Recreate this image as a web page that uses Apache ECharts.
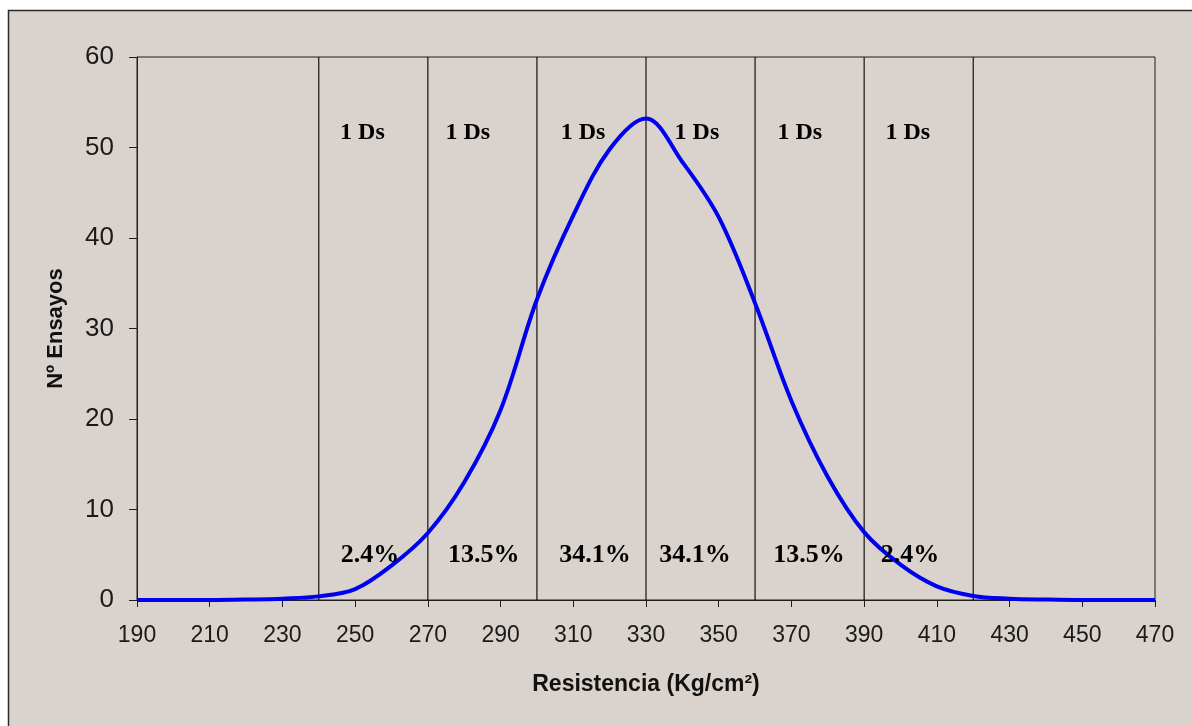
<!DOCTYPE html>
<html>
<head>
<meta charset="utf-8">
<script src="https://cdn.jsdelivr.net/npm/echarts@6/dist/echarts.min.js"></script>
<style>
html,body{margin:0;padding:0;background:#ffffff;}
#chart{width:1192px;height:726px;}
</style>
</head>
<body>
<div id="chart"></div>
<script>
// Curve: Resistencia (Kg/cm²) vs Nº Ensayos
const resistencia = [190,200,210,220,230,240,250,260,270,280,290,300,310,320,330,340,350,360,370,380,390,400,410,420,430,440,450,460,470];
const ensayos     = [0,0,0,0.05,0.15,0.4,1.2,3.8,7.4,13,21,33.2,42.5,49.8,53.2,48.4,42.3,32.8,22,13.6,7.5,3.9,1.5,0.45,0.15,0.05,0,0,0];

// Standard-deviation boundaries
const sdLines = [240,270,300,330,360,390,420];

// Annotations
const dsText = ['1 Ds','1 Ds','1 Ds','1 Ds','1 Ds','1 Ds'];
const dsX = [252,281,312.7,344,372.3,402];
const dsY = 51.6;
const pctText = ['2.4%','13.5%','34.1%','34.1%','13.5%','2.4%'];
const pctX = [254.1,285.4,316,343.5,374.8,402.6];
const pctY = 4.9;

// Axis ticks
const xMin = 190, xMax = 470, xStep = 20;
const yMin = 0, yMax = 60, yStep = 10;

const chart = echarts.init(document.getElementById('chart'));
const lineCol = '#1e1e1e';
const serif = '"Liberation Serif","Times New Roman",serif';
const sans = '"Liberation Sans",Arial,sans-serif';

const boundarySeries = sdLines.map(v => ({
  type: 'line', silent: true, showSymbol: false, z: 3,
  data: [[v, yMin], [v, yMax]],
  lineStyle: {color: '#000', width: 1.1},
  emphasis: {disabled: true}
}));

const labelSeries = (xs, texts, y, size) => ({
  type: 'scatter', symbolSize: 0, silent: true, z: 6,
  itemStyle: {opacity: 1},
  emphasis: {disabled: true},
  data: xs.map((x,i) => ({value: [x, y], name: texts[i]})),
  label: {show: true, position: 'inside', formatter: p => p.name, opacity: 1,
    fontFamily: serif, fontWeight: 'bold', fontSize: size, color: '#000'}
});

chart.setOption({
  backgroundColor: '#ffffff',
  animation: false,
  graphic: [{
    type: 'rect', z: -10, silent: true,
    shape: {x: 8.5, y: 10.5, width: 1200, height: 730},
    style: {fill: '#dad3cd', stroke: '#2a2a2a', lineWidth: 1.5}
  }],
  grid: {left: 137, right: 37, top: 57, bottom: 126, show: true, borderColor: lineCol, borderWidth: 1, backgroundColor: 'transparent'},
  xAxis: {
    type: 'value', min: xMin, max: xMax, interval: xStep,
    name: 'Resistencia (Kg/cm²)', nameLocation: 'middle', nameGap: 73,
    nameTextStyle: {fontFamily: sans, fontWeight: 'bold', fontSize: 23, color: '#111'},
    axisLine: {show: true, lineStyle: {color: lineCol, width: 1}},
    axisTick: {show: true, length: 7, lineStyle: {color: lineCol}},
    axisLabel: {fontFamily: sans, fontSize: 23, color: '#1a1a1a', margin: 24},
    splitLine: {show: false}
  },
  yAxis: {
    type: 'value', min: yMin, max: yMax, interval: yStep,
    name: 'Nº Ensayos', nameLocation: 'middle', nameGap: 70, nameRotate: 90,
    nameTextStyle: {fontFamily: sans, fontWeight: 'bold', fontSize: 22, color: '#111'},
    axisLine: {show: true, lineStyle: {color: lineCol, width: 1}},
    axisTick: {show: true, length: 8, lineStyle: {color: lineCol}},
    axisLabel: {fontFamily: sans, fontSize: 26, color: '#1a1a1a', margin: 23},
    splitLine: {show: false}
  },
  series: [
    ...boundarySeries,
    {
      type: 'line',
      data: resistencia.map((x,i) => [x, ensayos[i]]),
      smooth: 0.35,
      showSymbol: false,
      lineStyle: {color: '#0000f0', width: 4},
      z: 5
    },
    labelSeries(dsX, dsText, dsY, 24),
    labelSeries(pctX, pctText, pctY, 26)
  ]
});
</script>
</body>
</html>
